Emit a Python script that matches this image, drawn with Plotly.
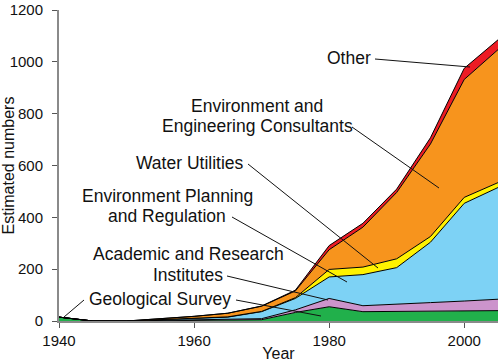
import plotly.graph_objects as go

years = [1940, 1945, 1950, 1955, 1960, 1965, 1970, 1975, 1980, 1985, 1990, 1995, 2000, 2005]
geological = [15, 0, 0, 1, 2, 3, 5, 33, 55, 36, 37, 38, 39, 40]
academic = [0, 0, 0, 1, 1, 2, 4, 10, 32, 23, 27, 33, 38, 44]
planning = [0, 0, 0, 3, 6, 10, 27, 44, 83, 120, 142, 233, 377, 431]
water = [0, 0, 0, 0, 0, 1, 1, 3, 29, 29, 34, 22, 23, 19]
consultants = [0, 0, 0, 4, 9, 14, 20, 26, 76, 154, 256, 357, 455, 513]
other = [0, 0, 0, 0, 0, 0, 1, 3, 16, 15, 13, 24, 43, 38]

series = [
    ("Geological Survey", geological, "#21b04b"),
    ("Academic and Research Institutes", academic, "#cc94cc"),
    ("Environment Planning and Regulation", planning, "#7dd2f5"),
    ("Water Utilities", water, "#fff200"),
    ("Environment and Engineering Consultants", consultants, "#f7941d"),
    ("Other", other, "#ed1c24"),
]

W, H = 499, 362
ML, MR, MT, MB = 59, 1, 10, 41
X0, X1 = 1940, 2005
Y0, Y1 = 0, 1200
pw, ph = W - ML - MR, H - MT - MB


def dx(px):
    return X0 + (px - ML) / pw * (X1 - X0)


def dy(py):
    return Y0 + (H - MB - py) / ph * (Y1 - Y0)


fig = go.Figure()
for name, vals, col in series:
    fig.add_trace(go.Scatter(
        x=years, y=vals, name=name, mode="lines",
        stackgroup="one", fillcolor=col,
        line=dict(color="black", width=1),
        hoverinfo="skip",
    ))

FONT = "Liberation Sans, Arial, Helvetica, sans-serif"

labels = [
    ("Other", 349, 58),
    ("Environment and", 257, 106),
    ("Engineering Consultants", 257, 126),
    ("Water Utilities", 190, 163),
    ("Environment Planning", 167, 196),
    ("and Regulation", 167, 216),
    ("Academic and Research", 188, 254),
    ("Institutes", 188, 275),
    ("Geological Survey", 160, 299),
]
for t, cx, cy in labels:
    fig.add_annotation(x=dx(cx), y=dy(cy), xref="x", yref="y", text=t,
                       showarrow=False, xanchor="center", yanchor="middle",
                       font=dict(family=FONT, size=17.5, color="#111"))

leaders = [
    ((375, 59), (470, 67)),
    ((352, 127), (439, 188)),
    ((248, 164), (378, 268)),
    ((232, 217), (347, 282)),
    ((227, 276), (328, 300)),
    ((236, 300), (321, 316)),
    ((84, 300), (64, 317)),
]
for (ax, ay), (bx, by) in leaders:
    fig.add_shape(type="line", xref="x", yref="y",
                  x0=dx(ax), y0=dy(ay), x1=dx(bx), y1=dy(by),
                  line=dict(color="#111", width=1))

fig.update_layout(
    width=W, height=H,
    margin=dict(l=ML, r=MR, t=MT, b=MB, autoexpand=False),
    paper_bgcolor="white", plot_bgcolor="white",
    showlegend=False,
    font=dict(family=FONT, size=15, color="#111"),
)
fig.update_xaxes(
    range=[X0, X1], tickvals=[1940, 1960, 1980, 2000],
    showgrid=False, zeroline=False, automargin=False,
    showline=True, linecolor="#8a8a8a", linewidth=2,
    ticks="outside", ticklen=5, tickcolor="#555", tickwidth=1,
    tickfont=dict(size=15),
    title=dict(text="Year", font=dict(size=16), standoff=0),
)
fig.update_yaxes(
    range=[Y0, Y1], tickvals=[0, 200, 400, 600, 800, 1000, 1200],
    showgrid=False, zeroline=False, automargin=False,
    showline=True, linecolor="#8a8a8a", linewidth=2,
    ticks="outside", ticklen=5, tickcolor="#555", tickwidth=1,
    tickfont=dict(size=15), ticklabelstandoff=6,
    title=dict(text="Estimated numbers", font=dict(size=16), standoff=0),
)

fig.write_html(
    "out.html",
    config={"displayModeBar": False, "staticPlot": True},
    post_script="document.body.style.margin='0px';document.body.style.overflow='hidden';",
)
